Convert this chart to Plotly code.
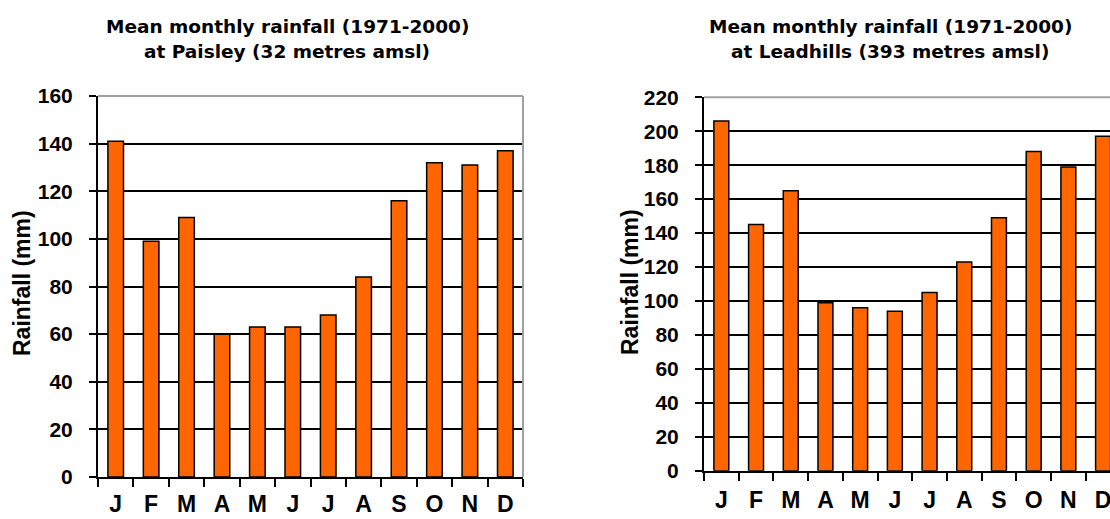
import plotly.graph_objects as go

# Monthly categories and their single-letter axis labels
months = ["Jan", "Feb", "Mar", "Apr", "May", "Jun",
          "Jul", "Aug", "Sep", "Oct", "Nov", "Dec"]
month_labels = ["J", "F", "M", "A", "M", "J", "J", "A", "S", "O", "N", "D"]

# Mean monthly rainfall 1971-2000 (mm)
paisley_rain = [141, 99, 109, 60, 63, 63, 68, 84, 116, 132, 131, 137]
leadhills_rain = [206, 145, 165, 99, 96, 94, 105, 123, 149, 188, 179, 197]

paisley_ticks = [0, 20, 40, 60, 80, 100, 120, 140, 160]
leadhills_ticks = [0, 20, 40, 60, 80, 100, 120, 140, 160, 180, 200, 220]

W, H = 1110, 519
ORANGE = "#FF6600"
BORDER_GREY = "#a0a0a0"
tick_font = dict(family="Liberation Sans, Arial, sans-serif", size=21,
                 color="black", weight="bold")
month_font = dict(family="Liberation Sans, Arial, sans-serif", size=23,
                  color="black", weight="bold")
title_font = dict(family="DejaVu Sans, Verdana, sans-serif", size=18.5,
                  color="black", weight="bold")
ytitle_font = dict(family="Liberation Sans, Arial, sans-serif", size=23,
                   color="black", weight="bold")

fig = go.Figure()

fig.add_trace(go.Bar(x=months, y=paisley_rain, xaxis="x", yaxis="y",
                     width=0.44, marker=dict(color=ORANGE,
                                             line=dict(color="black", width=1.5)),
                     showlegend=False))
fig.add_trace(go.Bar(x=months, y=leadhills_rain, xaxis="x2", yaxis="y2",
                     width=0.43, marker=dict(color=ORANGE,
                                             line=dict(color="black", width=1.5)),
                     showlegend=False))


def xaxis_cfg(domain, rng, anchor, standoff):
    return dict(domain=domain, range=rng, anchor=anchor, type="category",
                tickmode="array", tickvals=months, ticktext=month_labels,
                tickson="boundaries", ticks="outside", ticklen=8,
                tickwidth=1.5, tickcolor="black", showline=True,
                linecolor="black", linewidth=2, showgrid=False,
                tickfont=month_font, ticklabelstandoff=standoff,
                automargin=False, fixedrange=True)


def yaxis_cfg(domain, rng, anchor, vals):
    return dict(domain=domain, range=rng, anchor=anchor, tickmode="array",
                tickvals=vals, ticks="outside", ticklen=7, tickwidth=1.5,
                tickcolor="black", showline=True, linecolor="black",
                linewidth=2, showgrid=True, gridcolor="black", gridwidth=1.5,
                zeroline=False, tickfont=tick_font, ticklabelstandoff=12,
                automargin=False, fixedrange=True)


fig.update_layout(
    width=W, height=H,
    margin=dict(l=0, r=0, t=0, b=0, autoexpand=False),
    paper_bgcolor="white", plot_bgcolor="white",
    xaxis=xaxis_cfg([98 / W, 523 / W], [-0.5, 11.5], "y", 5),
    yaxis=yaxis_cfg([42 / H, 423 / H], [0, 160], "x", paisley_ticks),
    xaxis2=xaxis_cfg([704 / W, 1.0], [-0.5, 11.2], "y2", 8),
    yaxis2=yaxis_cfg([48.3 / H, 421.7 / H], [0, 220], "x2", leadhills_ticks),
)

# Grey frame along the top (and right edge of the first panel)
shapes = [
    dict(type="line", xref="x domain", yref="y domain", x0=0, x1=1, y0=1, y1=1,
         line=dict(color=BORDER_GREY, width=2), layer="above"),
    dict(type="line", xref="x domain", yref="y domain", x0=1, x1=1, y0=0, y1=1,
         line=dict(color=BORDER_GREY, width=2), layer="above"),
    dict(type="line", xref="x2 domain", yref="y2 domain", x0=0, x1=1, y0=1, y1=1,
         line=dict(color=BORDER_GREY, width=2), layer="above"),
]
fig.update_layout(shapes=shapes)

annotations = []
titles = [
    (287, ["Mean monthly rainfall (1971-2000)", "at Paisley (32 metres amsl)"]),
    (890, ["Mean monthly rainfall (1971-2000)", "at Leadhills (393 metres amsl)"]),
]
for cx, lines in titles:
    for line_text, cy in zip(lines, [26, 51]):
        annotations.append(dict(text=line_text, x=cx / W, y=1 - cy / H,
                                xref="paper", yref="paper", showarrow=False,
                                xanchor="center", yanchor="middle",
                                font=title_font))

for cx, cy in [(22, 283), (630, 282)]:
    annotations.append(dict(text="Rainfall (mm)", x=cx / W, y=1 - cy / H,
                            xref="paper", yref="paper", showarrow=False,
                            textangle=-90, xanchor="center", yanchor="middle",
                            font=ytitle_font))

fig.update_layout(annotations=annotations)

fig.write_html("out.html")
